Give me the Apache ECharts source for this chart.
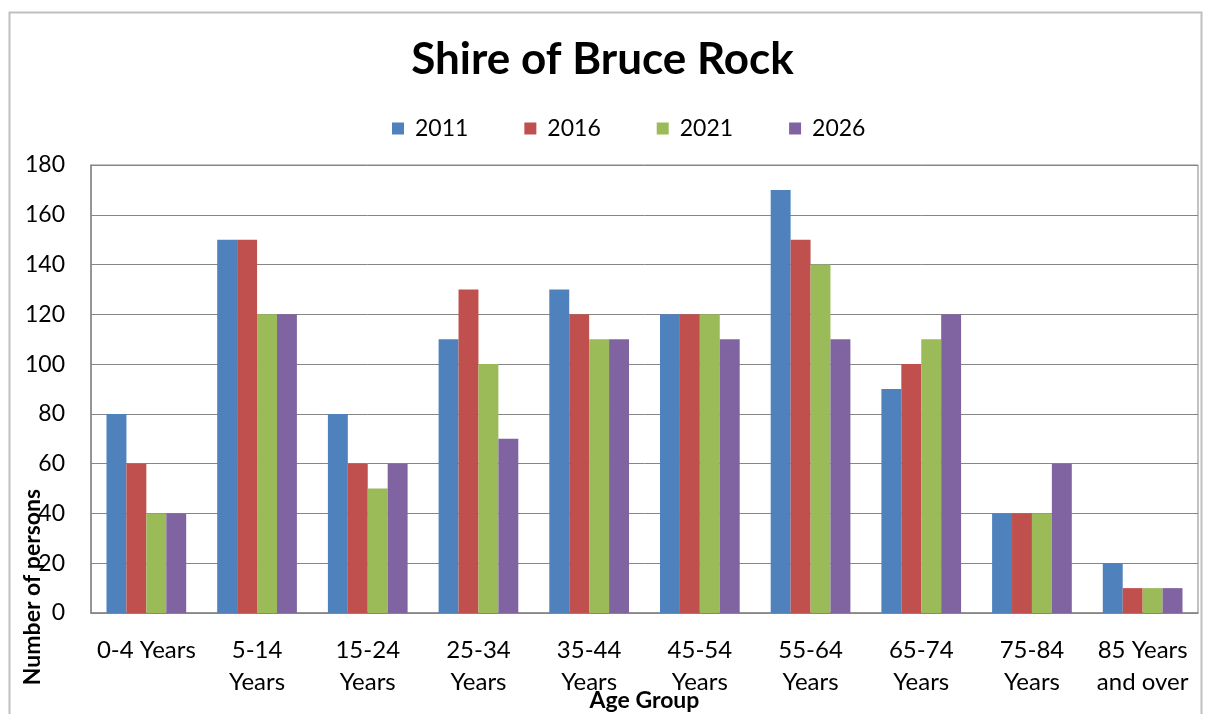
<!DOCTYPE html>
<html>
<head>
<meta charset="utf-8">
<script src="https://cdn.jsdelivr.net/npm/echarts@6/dist/echarts.min.js"></script>
<style>
  html, body { margin: 0; padding: 0; background: #fff; }
  #main { width: 1205px; height: 714px; }
</style>
</head>
<body>
<div id="main"></div>
<script>
const AGE_GROUPS = [
    '0-4 Years', '5-14\nYears', '15-24\nYears', '25-34\nYears', '35-44\nYears',
    '45-54\nYears', '55-64\nYears', '65-74\nYears', '75-84\nYears', '85 Years\nand over'
]

const YEARS = ['2011', '2016', '2021', '2026']

const V2011 = [80, 150, 80, 110, 130, 120, 170, 90, 40, 20]
const V2016 = [60, 150, 60, 130, 120, 120, 150, 100, 40, 10]
const V2021 = [40, 120, 50, 100, 110, 120, 140, 110, 40, 10]
const V2026 = [40, 120, 60, 70, 110, 110, 110, 120, 60, 10]

const Y_TICKS = [0, 20, 40, 60, 80, 100, 120, 140, 160, 180]

const COLORS = ['#4F81BD', '#C0504D', '#9BBB59', '#8064A2']
const FONT = 'Lato'
const GRID_GRAY = '#868686'

let values = [V2011, V2016, V2021, V2026]
let series = []
for (let i = 0; i < YEARS.length; i++) {
    series.push({
        name: YEARS[i],
        type: 'bar',
        data: values[i],
        barGap: '0%',
        barCategoryGap: '28%',
        itemStyle: { color: COLORS[i] }
    })
}

let option = {
    animation: false,
    color: COLORS,
    title: {
        text: 'Shire of Bruce Rock',
        left: 'center',
        top: 38,
        padding: 0,
        textStyle: { fontFamily: FONT, fontSize: 44, fontWeight: 'bold', color: '#000' }
    },
    legend: {
        data: YEARS,
        left: 392,
        top: 117,
        padding: 0,
        itemWidth: 12,
        itemHeight: 12,
        itemGap: 56,
        icon: 'rect',
        textStyle: { fontFamily: FONT, fontSize: 23, color: '#000', padding: [0, 0, 0, 6] }
    },
    grid: {
        left: 91,
        right: 7,
        top: 165,
        bottom: 101,
        show: true,
        borderColor: GRID_GRAY,
        borderWidth: 1,
        containLabel: false,
        outerBoundsMode: 'none'
    },
    xAxis: {
        type: 'category',
        data: AGE_GROUPS,
        name: 'Age Group',
        nameLocation: 'middle',
        nameGap: 88,
        nameMoveOverlap: false,
        nameTextStyle: {
            fontFamily: FONT, fontSize: 23, fontWeight: 'bold', color: '#000',
            verticalAlign: 'middle'
        },
        axisLine: { lineStyle: { color: GRID_GRAY, width: 1.5 } },
        axisTick: { show: false },
        axisLabel: {
            interval: 0,
            margin: 21,
            fontFamily: FONT,
            fontSize: 24,
            lineHeight: 32,
            color: '#000'
        }
    },
    yAxis: {
        type: 'value',
        min: Y_TICKS[0],
        max: Y_TICKS[Y_TICKS.length - 1],
        interval: 20,
        axisLine: { show: true, lineStyle: { color: GRID_GRAY, width: 1.5 } },
        axisTick: { show: false },
        splitLine: { lineStyle: { color: GRID_GRAY, width: 1 } },
        axisLabel: { margin: 26, fontFamily: FONT, fontSize: 23, color: '#000' }
    },
    graphic: [
        {
            type: 'rect',
            left: 7,
            top: 10,
            shape: { width: 1192, height: 720 },
            style: { fill: 'none', stroke: '#bfbfbf', lineWidth: 2 },
            silent: true,
            z: -1
        },
        {
            type: 'text',
            x: 33,
            y: 587,
            rotation: Math.PI / 2,
            style: {
                text: 'Number of persons',
                fontFamily: FONT,
                fontSize: 23,
                fontWeight: 'bold',
                fill: '#000',
                align: 'center',
                verticalAlign: 'middle'
            },
            z: 10
        }
    ],
    series: series
}

let chart = echarts.init(document.getElementById('main'))
chart.setOption(option)
</script>
</body>
</html>
